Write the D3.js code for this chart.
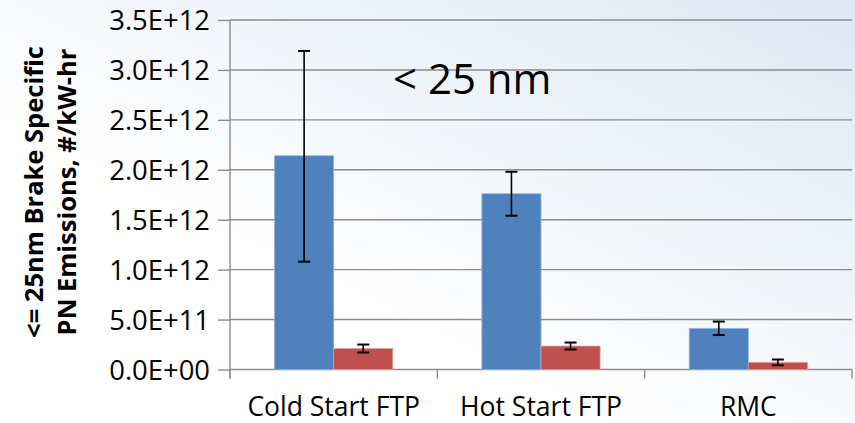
<!DOCTYPE html>
<html>
<head>
<meta charset="utf-8">
<script src="https://cdn.jsdelivr.net/npm/d3@7"></script>
<style>
  html, body { margin: 0; padding: 0; background: #fff; }
  svg { display: block; }
</style>
</head>
<body>
<svg id="chart" width="855" height="423"></svg>
<script>
// Test cycles along the x axis
const categories = ["Cold Start FTP", "Hot Start FTP", "RMC"];
// Mean emissions (#/kW-hr) for the two series, with error bar bounds
const seriesA = [2.14e12, 1.76e12, 0.41e12];
const seriesALow = [1.08e12, 1.54e12, 0.345e12];
const seriesAHigh = [3.19e12, 1.98e12, 0.48e12];
const seriesB = [0.21e12, 0.235e12, 0.072e12];
const seriesBLow = [0.17e12, 0.20e12, 0.042e12];
const seriesBHigh = [0.25e12, 0.27e12, 0.10e12];
const yTicks = [0, 0.5e12, 1.0e12, 1.5e12, 2.0e12, 2.5e12, 3.0e12, 3.5e12];
const yTickLabels = ["0.0E+00", "5.0E+11", "1.0E+12", "1.5E+12", "2.0E+12", "2.5E+12", "3.0E+12", "3.5E+12"];

const series = [
  { name: "A", values: seriesA, low: seriesALow, high: seriesAHigh, fill: "#4f81bd", edge: "#8eb0d8" },
  { name: "B", values: seriesB, low: seriesBLow, high: seriesBHigh, fill: "#c0504d", edge: "#e0a09e" }
];

const svg = d3.select("#chart");
const W = 855, H = 423;
const font = "'Open Sans', 'Noto Sans', sans-serif";

// Soft diagonal background wash
const defs = svg.append("defs");
const grad = defs.append("linearGradient").attr("id", "bg")
  .attr("x1", "0").attr("y1", "1").attr("x2", "1").attr("y2", "0");
grad.append("stop").attr("offset", "0.35").attr("stop-color", "#ffffff");
grad.append("stop").attr("offset", "1").attr("stop-color", "#dde8f4");
svg.append("rect").attr("width", W).attr("height", H).attr("fill", "url(#bg)");

const plot = { left: 230, right: 852, top: 20, bottom: 369.5 };

const y = d3.scaleLinear().domain([0, 3.5e12]).range([plot.bottom, plot.top]);
const x = d3.scaleBand().domain(categories).range([plot.left, plot.right]).paddingInner(0).paddingOuter(0);
const xs = d3.scaleBand().domain(series.map(s => s.name)).range([0, x.bandwidth()]).paddingInner(0).paddingOuter(0.754);

// Horizontal gridlines
svg.append("g")
  .selectAll("line").data(yTicks.slice(1)).join("line")
  .attr("x1", plot.left).attr("x2", plot.right)
  .attr("y1", d => y(d)).attr("y2", d => y(d))
  .attr("stroke", "#8c8c8c").attr("stroke-width", 1.4);

// Y axis
const yAxis = d3.axisLeft(y).tickValues(yTicks)
  .tickFormat((d, i) => yTickLabels[i]).tickSize(12).tickPadding(8);
const gy = svg.append("g").attr("transform", `translate(${plot.left},0)`).call(yAxis);
gy.select(".domain").attr("stroke", "#8c8c8c").attr("stroke-width", 1.4).attr("d", `M0,${plot.top}V${plot.bottom + 9}`);
gy.selectAll(".tick line").attr("stroke", "#8c8c8c").attr("stroke-width", 1.4);
gy.selectAll(".tick text").attr("font-family", font).attr("font-size", 27.4).attr("fill", "#000").attr("dy", "0.36em");

// X axis
const xAxis = d3.axisBottom(x).tickSize(0).tickPadding(0);
const gx = svg.append("g").attr("transform", `translate(0,${plot.bottom})`).call(xAxis);
gx.select(".domain").attr("stroke", "#8c8c8c").attr("stroke-width", 1.4).attr("d", `M${plot.left},0H${plot.right}`);
gx.selectAll(".tick text").attr("font-family", font).attr("font-size", 26.5).attr("fill", "#000")
  .attr("dy", null).attr("y", 46.5);
// Category boundary ticks
const bounds = categories.map(c => x(c)).concat([plot.right]);
gx.append("g").selectAll("line").data(bounds).join("line")
  .attr("x1", d => d).attr("x2", d => d).attr("y1", 0).attr("y2", 9)
  .attr("stroke", "#8c8c8c").attr("stroke-width", 1.4);

// Bars
const groups = svg.append("g").selectAll("g").data(series).join("g");
groups.selectAll("rect").data(s => s.values.map((v, i) => ({ s, v, i }))).join("rect")
  .attr("x", d => x(categories[d.i]) + xs(d.s.name))
  .attr("width", xs.bandwidth())
  .attr("y", d => y(d.v))
  .attr("height", d => y(0) - y(d.v))
  .attr("fill", d => d.s.fill)
  .attr("stroke", d => d.s.edge).attr("stroke-width", 0.8);

// Error bars
const errs = svg.append("g");
series.forEach(s => {
  s.values.forEach((v, i) => {
    const cx = x(categories[i]) + xs(s.name) + xs.bandwidth() / 2;
    const g = errs.append("g").attr("stroke", "#000");
    g.append("line").attr("x1", cx).attr("x2", cx).attr("y1", y(s.low[i])).attr("y2", y(s.high[i])).attr("stroke-width", 1.6);
    [s.low[i], s.high[i]].forEach(e => {
      g.append("line").attr("x1", cx - 6).attr("x2", cx + 6).attr("y1", y(e)).attr("y2", y(e)).attr("stroke-width", 2);
    });
  });
});

// Size class annotation
svg.append("text").attr("x", 393).attr("y", 94)
  .attr("font-family", font).attr("font-size", 42).attr("fill", "#000")
  .text("< 25 nm");

// Y axis title, two lines
const title = svg.append("text")
  .attr("transform", `translate(0,192) rotate(-90)`)
  .attr("text-anchor", "middle").attr("font-family", font).attr("font-weight", "bold")
  .attr("font-size", 25.5).attr("fill", "#000");
title.append("tspan").attr("x", 0).attr("y", 43).text("<= 25nm Brake Specific");
title.append("tspan").attr("x", 0).attr("y", 76).text("PN Emissions, #/kW-hr");
</script>
</body>
</html>
